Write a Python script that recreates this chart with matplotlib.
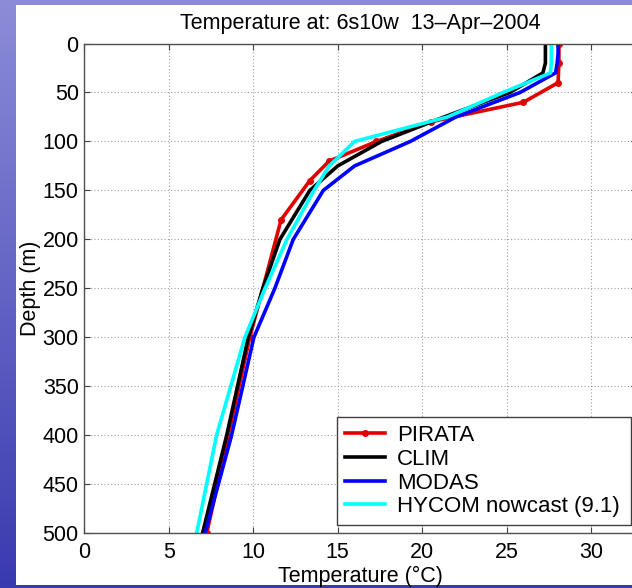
import numpy as np
import matplotlib
matplotlib.use('Agg')
import matplotlib.pyplot as plt
from matplotlib.patches import Rectangle

plt.rcParams['font.family'] = ['Liberation Sans', 'DejaVu Sans']

# profiles (depth in m, temperature in deg C)
pirata_depth = [0, 20, 40, 60, 80, 100, 120, 140, 180, 300, 500]
pirata_temp = [28.1, 28.1, 28.05, 26.0, 20.5, 17.3, 14.5, 13.35, 11.65, 9.8, 7.25]

clim_depth = [0, 10, 20, 30, 50, 75, 100, 125, 150, 200, 250, 300, 400, 500]
clim_temp = [27.3, 27.3, 27.3, 27.15, 25.2, 21.3, 17.6, 15.0, 13.35, 11.58, 10.57, 9.71, 8.43, 7.0]

modas_depth = [0, 10, 20, 30, 50, 75, 100, 125, 150, 200, 250, 300, 400, 500]
modas_temp = [28.05, 28.05, 28.0, 27.9, 25.8, 22.0, 19.3, 16.0, 14.15, 12.37, 11.28, 10.04, 8.72, 7.15]

hycom_depth = [0, 10, 20, 30, 50, 75, 100, 125, 150, 200, 250, 300, 400, 500]
hycom_temp = [27.65, 27.65, 27.65, 27.6, 24.8, 21.5, 16.0, 14.5, 13.6, 12.0, 10.7, 9.51, 7.83, 6.65]

xticks = [0, 5, 10, 15, 20, 25, 30]
yticks = [0, 50, 100, 150, 200, 250, 300, 350, 400, 450, 500]

fig = plt.figure(figsize=(6.32, 5.88), dpi=100)

# slide background: blue gradient with a white panel
bg = fig.add_axes([0, 0, 1, 1], zorder=-10)
grad = np.linspace(0, 1, 256).reshape(-1, 1)
bg.imshow(grad, aspect='auto', extent=[0, 1, 0, 1],
          cmap=matplotlib.colors.LinearSegmentedColormap.from_list('slide', ['#3a3ab0', '#8c8cd8']),
          origin='lower')
bg.add_patch(Rectangle((16/632, 3/588), 1, 1 - 8/588, facecolor='white', edgecolor='none'))
bg.set_xlim(0, 1)
bg.set_ylim(0, 1)
bg.axis('off')

W, H = 632, 588
left, right, top, bottom = 84.3, 636.6, 43.5, 533.3
ax = fig.add_axes([left/W, (H-bottom)/H, (right-left)/W, (bottom-top)/H])

ax.plot(pirata_temp, pirata_depth, color='#e00000', lw=2.6, marker='o', ms=4, label='PIRATA')
ax.plot(clim_temp, clim_depth, color='black', lw=2.6, label='CLIM')
ax.plot(modas_temp, modas_depth, color='#0000ff', lw=2.6, label='MODAS')
ax.plot(hycom_temp, hycom_depth, color='#00ffff', lw=2.6, label='HYCOM nowcast (9.1)')

ax.set_xlim(0, 32.7)
ax.set_ylim(500, 0)
ax.set_xticks(xticks)
ax.set_yticks(yticks)
ax.grid(True, color='#a0a0a0', linestyle=(0, (1, 2)), lw=0.8)
ax.tick_params(direction='in', top=True, right=True, length=4, labelsize=15.5,
               color='#404040')
ax.tick_params(axis='x', pad=6)
ax.tick_params(axis='y', pad=4)
for s in ax.spines.values():
    s.set_color('#505050')
    s.set_linewidth(1)

ax.set_title('Temperature at: 6s10w  13\u2013Apr\u20132004', fontsize=15.5, pad=10.5)
ax.set_xlabel('Temperature (\u00b0C)', fontsize=15.5, labelpad=2)
ax.set_ylabel('Depth (m)', fontsize=15.5, labelpad=1)

leg = ax.legend(loc='lower left', bbox_to_anchor=(337/W, (H-525)/H, (631-337)/W, 0.18),
                bbox_transform=fig.transFigure, mode='expand', fontsize=16,
                fancybox=False, framealpha=1, edgecolor='#404040',
                handlelength=1.8, handletextpad=0.55, labelspacing=0.12,
                borderpad=0.35, borderaxespad=0)
leg.get_frame().set_linewidth(1)

fig.savefig('out.png', dpi=100)
